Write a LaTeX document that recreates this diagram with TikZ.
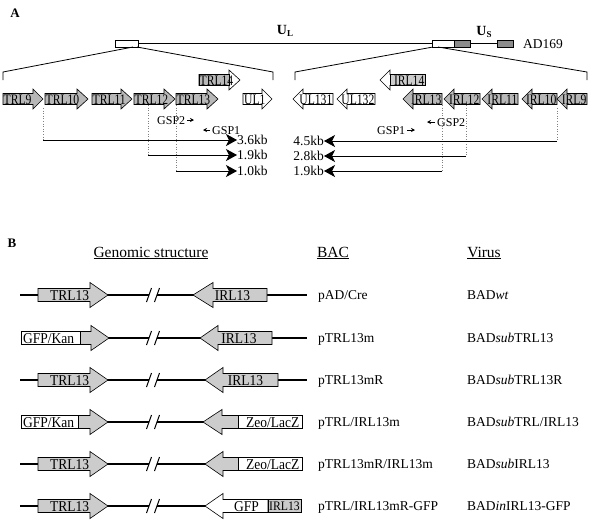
\documentclass[tikz,border=0pt]{standalone}
\usepackage{fontspec}
\setmainfont{Liberation Serif}
\newfontfamily\condA[FakeStretch=0.8]{Liberation Serif}
\newfontfamily\condB[FakeStretch=0.9]{Liberation Serif}
\usetikzlibrary{arrows.meta}
\definecolor{gA}{gray}{0.72}
\definecolor{gB}{gray}{0.80}
\definecolor{gC}{gray}{0.55}
% generic arrow: #1 body start, #2 head base, #3 tip, #4 y, #5 half body, #6 half head, #7 style
\newcommand\garr[7]{\draw[#7] (#1,#4-#5) -- (#2,#4-#5) -- (#2,#4-#6) -- (#3,#4) -- (#2,#4+#6) -- (#2,#4+#5) -- (#1,#4+#5) -- cycle;}
\begin{document}
\begin{tikzpicture}[x=1pt,y=-1pt,
  geneA/.style={draw=black,line width=0.6pt,fill=gA},
  geneAw/.style={draw=black,line width=0.6pt,fill=white},
  geneB/.style={draw=black,line width=0.6pt,fill=gB},
  geneBw/.style={draw=black,line width=0.6pt,fill=white},
  lblA/.style={font=\condA\fontsize{14.5}{14.5}\selectfont,inner sep=0pt},
  lblB/.style={font=\condB\fontsize{15}{15}\selectfont,inner sep=0pt},
  gsp/.style={font=\fontsize{12}{12}\selectfont,inner sep=0pt},
  kb/.style={font=\fontsize{13.5}{13.5}\selectfont,inner sep=0pt},
  kbline/.style={line width=0.8pt,-{Stealth[length=11pt,width=12pt,inset=3pt]}},
  dotl/.style={gray,dotted,line width=0.6pt},
  small/.style={line width=0.7pt,-{Stealth[length=4pt,width=4pt]}},
  bbline/.style={line width=2pt},
  slash/.style={line width=1pt},
  head/.style={font=\fontsize{15.5}{15.5}\selectfont,inner sep=0pt},
  row/.style={font=\fontsize{13.5}{13.5}\selectfont,inner sep=0pt,anchor=base west},
  panel/.style={font=\fontsize{13}{13}\selectfont\bfseries,inner sep=0pt}
]
\useasboundingbox (0,0) rectangle (594,523);
\fill[white] (0,0) rectangle (594,523);

%%%%%%%% Panel A
\node[panel] (pA) at (15,13) {A};

% genome line
\draw[line width=1.2pt] (138,43.5) -- (432,43.5);
\draw[line width=1.2pt] (470,43.5) -- (497,43.5);
\draw[line width=0.7pt,fill=white] (115,40) rectangle (138,47);
\draw[line width=0.7pt,fill=white] (432,40) rectangle (454,47);
\draw[line width=0.7pt,fill=gC] (454,40) rectangle (470,47);
\draw[line width=0.7pt,fill=gC] (497,40) rectangle (513,47);
\node[font=\fontsize{14}{14}\selectfont\bfseries,inner sep=0pt] (UL) at (285,31) {U\raisebox{-2.5pt}{\fontsize{9}{9}\selectfont L}};
\node[font=\fontsize{14}{14}\selectfont\bfseries,inner sep=0pt] (US) at (484,32) {U\raisebox{-2.5pt}{\fontsize{9}{9}\selectfont S}};
\node[font=\fontsize{13.5}{13.5}\selectfont,inner sep=0pt,anchor=west] (AD) at (523,44) {AD169};

% expansion lines
\coordinate (lb1) at (133,47); \coordinate (lb2) at (137,47);
\coordinate (la) at (3,72); \coordinate (lb) at (273,72);
\draw[line width=0.8pt] (lb1) -- (la) -- (3,80);
\draw[line width=0.8pt] (lb2) -- (lb) -- (273,80);
\coordinate (rb1) at (433,47); \coordinate (rb2) at (438,47);
\coordinate (ra) at (295,72); \coordinate (rb) at (587,72);
\draw[line width=0.8pt] (rb1) -- (ra) -- (295,80);
\draw[line width=0.8pt] (rb2) -- (rb) -- (587,80);

% dotted guide lines (under arrows)
\coordinate (d1) at (43,108); \coordinate (e1) at (43,140);
\coordinate (d2) at (148,105); \coordinate (e2) at (148,155);
\coordinate (d3) at (176,105); \coordinate (e3) at (176,171);
\coordinate (d4) at (557,108); \coordinate (e4) at (557,141);
\coordinate (d5) at (466,105); \coordinate (e5) at (466,156);
\coordinate (d6) at (442,105); \coordinate (e6) at (442,171);
\foreach \i in {1,...,6} {\draw[dotl] (d\i) -- (e\i);}

% left genes (pointing right)
\garr{3}{33}{43}{99}{5.5}{10}{geneA}
\node[lblA,anchor=base west] (g1) at (3.5,104) {TRL9};
\garr{45}{77}{88}{99}{5.5}{10}{geneA}
\node[lblA,anchor=base west] (g2) at (45.5,104) {TRL10};
\garr{92}{121}{132}{99}{5.5}{10}{geneA}
\node[lblA,anchor=base west] (g3) at (92.5,104) {TRL11};
\garr{134}{164}{175}{99}{5.5}{10}{geneA}
\node[lblA,anchor=base west] (g4) at (134.5,104) {TRL12};
\garr{176}{207}{218}{99}{5.5}{10}{geneA}
\node[lblA,anchor=base west] (g5) at (176.5,104) {TRL13};
\garr{199}{229}{240}{80}{5.5}{10}{geneAw}
\draw[geneA] (199,74.5) rectangle (229,85.5);
\node[lblA,anchor=base west] (g6) at (199.5,85) {TRL14};
\garr{243}{262}{272}{99}{5.5}{10}{geneAw}
\node[lblA,anchor=base west] (g7) at (244,104) {UL1};

% right genes (pointing left)
\garr{333}{303}{293}{99}{5.5}{10}{geneAw}
\node[lblA,anchor=base east] (h1) at (332.5,104) {UL131};
\garr{375}{347}{337}{99}{5.5}{10}{geneAw}
\node[lblA,anchor=base east] (h2) at (374.5,104) {UL132};
\garr{425}{390}{380}{80}{5.5}{10}{geneAw}
\draw[geneA,fill=gB] (390,74.5) rectangle (425,85.5);
\node[lblA,anchor=base east] (h3) at (424.5,85) {IRL14};
\garr{442}{413}{403}{99}{5.5}{10}{geneA}
\node[lblA,anchor=base east] (h4) at (441.5,104) {IRL13};
\garr{480}{454}{444}{99}{5.5}{10}{geneA}
\node[lblA,anchor=base east] (h5) at (479.5,104) {IRL12};
\garr{518}{492}{482}{99}{5.5}{10}{geneA}
\node[lblA,anchor=base east] (h6) at (517.5,104) {IRL11};
\garr{557}{532}{522}{99}{5.5}{10}{geneA}
\node[lblA,anchor=base east] (h7) at (556.5,104) {IRL10};
\garr{587}{567}{557}{99}{5.5}{10}{geneA}
\node[lblA,anchor=base east] (h8) at (586.5,104) {IRL9};

% primers
\node[gsp,anchor=base west] (p1) at (157,124) {GSP2};
\coordinate (p1a) at (187,120); \coordinate (p1b) at (194,120);
\draw[small] (p1a) -- (p1b);
\node[gsp,anchor=base west] (p2) at (212,134) {GSP1};
\coordinate (p2a) at (210,130); \coordinate (p2b) at (203,130);
\draw[small] (p2a) -- (p2b);
\node[gsp,anchor=base west] (p3) at (377,134) {GSP1};
\coordinate (p3a) at (407,130); \coordinate (p3b) at (415,130);
\draw[small] (p3a) -- (p3b);
\node[gsp,anchor=base west] (p4) at (437,126) {GSP2};
\coordinate (p4a) at (435,122); \coordinate (p4b) at (427,122);
\draw[small] (p4a) -- (p4b);

% fragment arrows
\coordinate (t1) at (237,140); \coordinate (t2) at (237,155); \coordinate (t3) at (237,171);
\draw[kbline] (e1) -- (t1);
\draw[kbline] (e2) -- (t2);
\draw[kbline] (e3) -- (t3);
\node[kb,anchor=base west] (k1) at (237,144.5) {3.6kb};
\node[kb,anchor=base west] (k2) at (237,159.5) {1.9kb};
\node[kb,anchor=base west] (k3) at (237,175.5) {1.0kb};
\coordinate (t4) at (324,141); \coordinate (t5) at (324,156); \coordinate (t6) at (324,171);
\draw[kbline] (e4) -- (t4);
\draw[kbline] (e5) -- (t5);
\draw[kbline] (e6) -- (t6);
\node[kb,anchor=base east] (k4) at (324,145.5) {4.5kb};
\node[kb,anchor=base east] (k5) at (324,160.5) {2.8kb};
\node[kb,anchor=base east] (k6) at (324,175.5) {1.9kb};

%%%%%%%% Panel B
\node[panel] (pB) at (12,243) {B};
\node[head] (H1) at (151,253) {\underline{Genomic structure}};
\node[head] (H2) at (333,253) {\underline{BAC}};
\node[head] (H3) at (484,253) {\underline{Virus}};

% Row 1
\def\y{295}
\draw[bbline] (20,\y) -- (149,\y); \draw[bbline] (157,\y) -- (307,\y);
\draw[slash] (146.5,\y+7) -- (151.5,\y-7); \draw[slash] (154.5,\y+7) -- (159.5,\y-7);
\garr{38}{90}{108}{\y}{6.5}{12.5}{geneB}
\garr{267}{213}{193}{\y}{6.5}{12.5}{geneB}
\node[lblB,anchor=base] (r1a) at (69.5,\y+5) {TRL13};
\node[lblB,anchor=base] (r1b) at (232.5,\y+5) {IRL13};
\node[row] (b1) at (318,\y+4.5) {pAD/Cre};
\node[row] (v1) at (467,\y+4.5) {BAD\textit{wt}};

% Row 2
\def\y{338}
\draw[bbline] (100,\y) -- (149,\y); \draw[bbline] (157,\y) -- (307,\y);
\draw[slash] (146.5,\y+7) -- (151.5,\y-7); \draw[slash] (154.5,\y+7) -- (159.5,\y-7);
\garr{79}{91}{109}{\y}{6.5}{12.5}{geneB}
\draw[geneBw] (21,\y-6.5) rectangle (80,\y+6.5);
\garr{272}{218}{200}{\y}{6.5}{12.5}{geneB}
\node[lblB,anchor=base west] (r2a) at (23,\y+5) {GFP/Kan};
\node[lblB,anchor=base] (r2b) at (239,\y+5) {IRL13};
\node[row] (b2) at (318,\y+4.5) {pTRL13m};
\node[row] (v2) at (467,\y+4.5) {BAD\textit{sub}TRL13};

% Row 3
\def\y{380}
\draw[bbline] (20,\y) -- (149,\y); \draw[bbline] (157,\y) -- (307,\y);
\draw[slash] (146.5,\y+7) -- (151.5,\y-7); \draw[slash] (154.5,\y+7) -- (159.5,\y-7);
\garr{38}{90}{108}{\y}{6.5}{12.5}{geneB}
\garr{278}{223}{205}{\y}{6.5}{12.5}{geneB}
\node[lblB,anchor=base] (r3a) at (69.5,\y+5) {TRL13};
\node[lblB,anchor=base] (r3b) at (245.5,\y+5) {IRL13};
\node[row] (b3) at (318,\y+4.5) {pTRL13mR};
\node[row] (v3) at (467,\y+4.5) {BAD\textit{sub}TRL13R};

% Row 4
\def\y{422}
\draw[bbline] (100,\y) -- (149,\y); \draw[bbline] (157,\y) -- (210,\y);
\draw[slash] (146.5,\y+7) -- (151.5,\y-7); \draw[slash] (154.5,\y+7) -- (159.5,\y-7);
\garr{77}{90}{108}{\y}{6.5}{12.5}{geneB}
\draw[geneBw] (21,\y-6.5) rectangle (78,\y+6.5);
\garr{239}{222}{203}{\y}{6.5}{12.5}{geneB}
\draw[geneBw] (238,\y-6.5) rectangle (302,\y+6.5);
\node[lblB,anchor=base west] (r4a) at (23,\y+5) {GFP/Kan};
\node[lblB,anchor=base west] (r4b) at (246,\y+5) {Zeo/LacZ};
\node[row] (b4) at (318,\y+4.5) {pTRL/IRL13m};
\node[row] (v4) at (467,\y+4.5) {BAD\textit{sub}TRL/IRL13};

% Row 5
\def\y{464}
\draw[bbline] (20,\y) -- (149,\y); \draw[bbline] (157,\y) -- (210,\y);
\draw[slash] (146.5,\y+7) -- (151.5,\y-7); \draw[slash] (154.5,\y+7) -- (159.5,\y-7);
\garr{38}{90}{108}{\y}{6.5}{12.5}{geneB}
\garr{239}{223}{205}{\y}{6.5}{12.5}{geneB}
\draw[geneBw] (238,\y-6.5) rectangle (302,\y+6.5);
\node[lblB,anchor=base] (r5a) at (69.5,\y+5) {TRL13};
\node[lblB,anchor=base west] (r5b) at (246,\y+5) {Zeo/LacZ};
\node[row] (b5) at (318,\y+4.5) {pTRL13mR/IRL13m};
\node[row] (v5) at (467,\y+4.5) {BAD\textit{sub}IRL13};

% Row 6
\def\y{506}
\draw[bbline] (20,\y) -- (149,\y); \draw[bbline] (157,\y) -- (210,\y);
\draw[slash] (146.5,\y+7) -- (151.5,\y-7); \draw[slash] (154.5,\y+7) -- (159.5,\y-7);
\garr{38}{90}{108}{\y}{6.5}{12.5}{geneB}
\garr{268}{223}{205}{\y}{6.5}{12.5}{geneBw}
\draw[geneB] (268,\y-6.5) rectangle (301,\y+6.5);
\node[lblB,anchor=base] (r6a) at (69.5,\y+5) {TRL13};
\node[lblB,anchor=base] (r6b) at (246.5,\y+5) {GFP};
\node[lblB,anchor=base,font=\condB\fontsize{13}{13}\selectfont] (r6c) at (284.5,\y+4.7) {IRL13};
\node[row] (b6) at (318,\y+4.5) {pTRL/IRL13mR-GFP};
\node[row] (v6) at (467,\y+4.5) {BAD\textit{in}IRL13-GFP};
\end{tikzpicture}
\end{document}
